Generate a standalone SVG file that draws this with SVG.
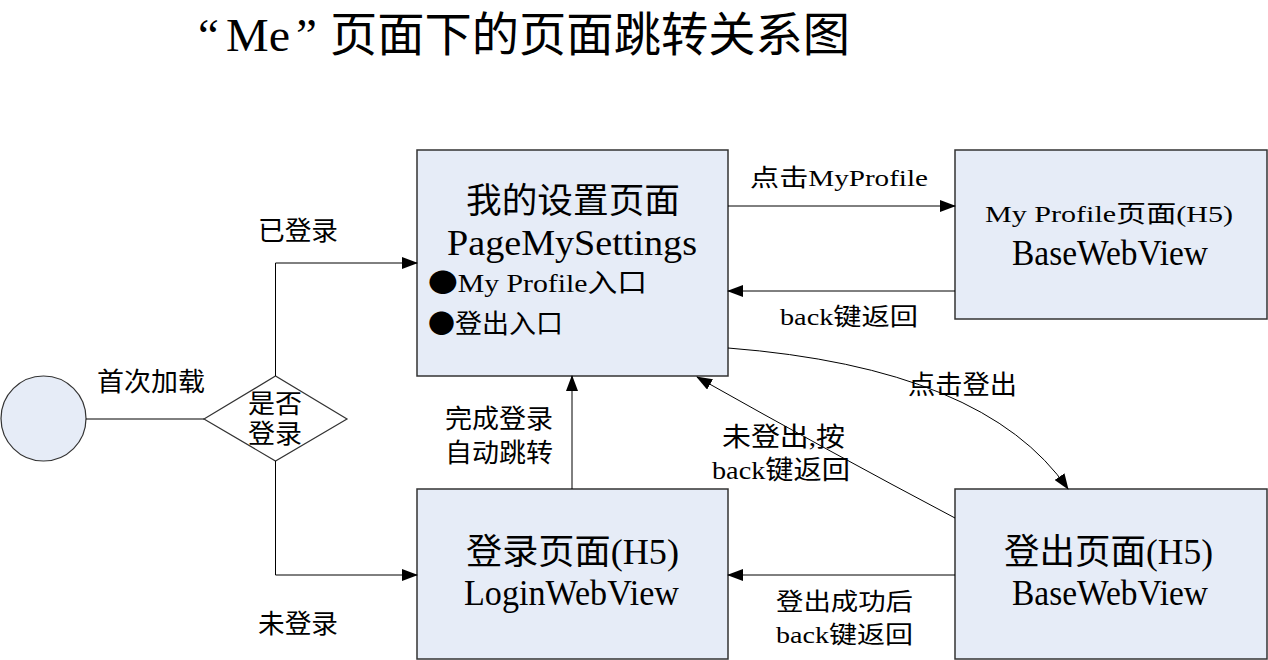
<svg xmlns="http://www.w3.org/2000/svg" width="1268" height="660" viewBox="0 0 1268 660">
<style>
text{font-family:"Liberation Serif","Noto Sans CJK SC",serif;fill:#000}
.cjk{font-family:"Noto Sans CJK SC",sans-serif}
.box{fill:#E6ECF7;stroke:#333;stroke-width:1.5}
.ln{fill:none;stroke:#000;stroke-width:1}
.t36{font-size:35px}
.t27{font-size:26px}
.t24{font-size:24px}
.ttl{font-size:47px}
</style>
<defs>
<marker id="ah" markerUnits="userSpaceOnUse" markerWidth="16" markerHeight="12" refX="15" refY="6" orient="auto" viewBox="0 0 16 12">
<path d="M0,0 L16,6 L0,12 z" fill="#000"/>
</marker>
</defs>
<rect width="1268" height="660" fill="#fff"/>
<text class="ttl" x="198" y="51">“</text>
<text class="ttl" x="226" y="51" textLength="64" lengthAdjust="spacingAndGlyphs">Me</text>
<text class="ttl" x="296" y="51">”</text>
<text class="ttl" x="330" y="51" textLength="520" lengthAdjust="spacingAndGlyphs">页面下的页面跳转关系图</text>

<g id="start"><circle cx="43.5" cy="418.5" r="42.5" fill="#E6ECF7" stroke="#333" stroke-width="1.2"/></g>

<g id="decision">
<polygon points="204,419 275.5,376 347,419 275.5,461" fill="#fff" stroke="#333" stroke-width="1.2"/>
<text class="t27" x="248" y="413" textLength="54" lengthAdjust="spacingAndGlyphs">是否</text>
<text class="t27" x="248" y="443" textLength="54" lengthAdjust="spacingAndGlyphs">登录</text>
</g>

<g id="settings">
<rect class="box" x="417" y="150" width="311" height="226"/>
<text class="t36" x="466" y="213" textLength="214" lengthAdjust="spacingAndGlyphs">我的设置页面</text>
<text class="t36" x="447" y="255" textLength="250" lengthAdjust="spacingAndGlyphs">PageMySettings</text>
<text class="t27" x="428" y="292" textLength="219" lengthAdjust="spacingAndGlyphs"><tspan class="cjk">●</tspan>My Profile入口</text>
<text class="t27" x="428" y="333" textLength="135" lengthAdjust="spacingAndGlyphs"><tspan class="cjk">●</tspan>登出入口</text>
</g>

<g id="profile">
<rect class="box" x="955" y="150" width="312" height="169"/>
<text class="t24" x="985" y="222" textLength="248" lengthAdjust="spacingAndGlyphs">My Profile页面(H5)</text>
<text class="t36" x="1012" y="265" textLength="196" lengthAdjust="spacingAndGlyphs">BaseWebView</text>
</g>

<g id="login">
<rect class="box" x="417" y="489" width="311" height="170"/>
<text class="t36" x="466" y="564" textLength="213" lengthAdjust="spacingAndGlyphs">登录页面(H5)</text>
<text class="t36" x="464" y="605" textLength="215" lengthAdjust="spacingAndGlyphs">LoginWebView</text>
</g>

<g id="logout">
<rect class="box" x="955" y="489" width="312" height="170"/>
<text class="t36" x="1004" y="564" textLength="209" lengthAdjust="spacingAndGlyphs">登出页面(H5)</text>
<text class="t36" x="1012" y="605" textLength="196" lengthAdjust="spacingAndGlyphs">BaseWebView</text>
</g>

<g id="connectors">
<line class="ln" x1="86" y1="419" x2="204" y2="419"/>
<polyline class="ln" points="275.5,376 275.5,263 417,263" marker-end="url(#ah)"/>
<polyline class="ln" points="275.5,461 275.5,575 417,575" marker-end="url(#ah)"/>
<line class="ln" x1="728" y1="206" x2="955" y2="206" marker-end="url(#ah)"/>
<line class="ln" x1="955" y1="291" x2="728" y2="291" marker-end="url(#ah)"/>
<line class="ln" x1="572" y1="489" x2="572" y2="376" marker-end="url(#ah)"/>
<path class="ln" d="M728,348 Q985,368 1068,489" marker-end="url(#ah)"/>
<path class="ln" d="M955,518 Q830,452 697,377" marker-end="url(#ah)"/>
<line class="ln" x1="955" y1="575" x2="728" y2="575" marker-end="url(#ah)"/>
<text class="t27" x="97" y="391" textLength="108" lengthAdjust="spacingAndGlyphs">首次加载</text>
<text class="t27" x="258" y="240" textLength="80" lengthAdjust="spacingAndGlyphs">已登录</text>
<text class="t27" x="258" y="633" textLength="80" lengthAdjust="spacingAndGlyphs">未登录</text>
<text class="t24" x="750" y="186" textLength="178" lengthAdjust="spacingAndGlyphs">点击MyProfile</text>
<text class="t24" x="780" y="325" textLength="138" lengthAdjust="spacingAndGlyphs">back键返回</text>
<text class="t27" x="445" y="428" textLength="108" lengthAdjust="spacingAndGlyphs">完成登录</text>
<text class="t27" x="445" y="462" textLength="108" lengthAdjust="spacingAndGlyphs">自动跳转</text>
<text class="t27" x="722" y="446" textLength="123" lengthAdjust="spacingAndGlyphs">未登出,按</text>
<text class="t27" x="712" y="479" textLength="138" lengthAdjust="spacingAndGlyphs">back键返回</text>
<text class="t27" x="908" y="394" textLength="109" lengthAdjust="spacingAndGlyphs">点击登出</text>
<text class="t24" x="776" y="610" textLength="137" lengthAdjust="spacingAndGlyphs">登出成功后</text>
<text class="t24" x="776" y="643" textLength="137" lengthAdjust="spacingAndGlyphs">back键返回</text>
</g>
</svg>
